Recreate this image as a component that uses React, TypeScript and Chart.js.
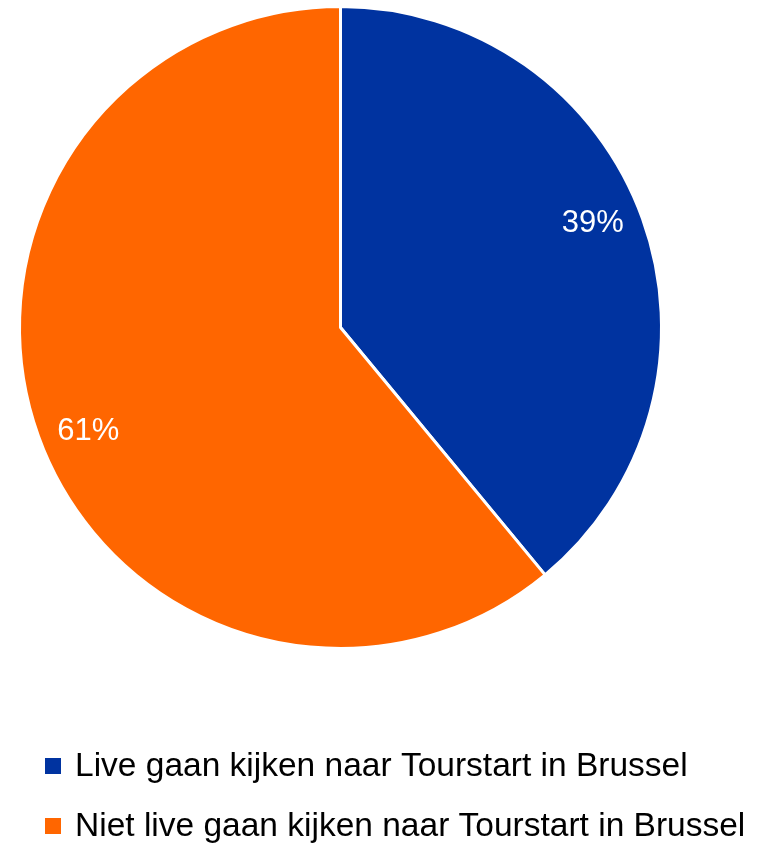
import React, { useEffect, useRef } from "react";
import { Chart, registerables } from "chart.js";

Chart.register(...registerables);

const categories = [
  "Live gaan kijken naar Tourstart in Brussel",
  "Niet live gaan kijken naar Tourstart in Brussel",
];
const values = [39, 61];
const colors = ["#0033A0", "#FF6600"];

const FONT = "'Liberation Sans', Arial, sans-serif";

const labelPlugin = {
  id: "sliceLabels",
  afterDatasetsDraw(chart: any) {
    const ctx = chart.ctx;
    const meta = chart.getDatasetMeta(0);
    const total = values.reduce((a, b) => a + b, 0);
    ctx.save();
    ctx.fillStyle = "#ffffff";
    ctx.font = `31px ${FONT}`;
    ctx.textAlign = "center";
    ctx.textBaseline = "middle";
    meta.data.forEach((arc: any, i: number) => {
      const p = arc.getProps(["x", "y", "startAngle", "endAngle", "outerRadius"], true);
      const mid = (p.startAngle + p.endAngle) / 2 - (2.6 * Math.PI) / 180;
      const r = p.outerRadius * 0.85;
      const pct = Math.round((values[i] / total) * 100);
      ctx.fillText(pct + "%", p.x + Math.cos(mid) * r, p.y + Math.sin(mid) * r);
    });
    ctx.restore();
  },
};

const legendPlugin = {
  id: "customLegend",
  afterDraw(chart: any) {
    const ctx = chart.ctx;
    const labels = chart.data.labels as string[];
    const bg = chart.data.datasets[0].backgroundColor as string[];
    const startY = chart.chartArea.bottom + 116;
    ctx.save();
    ctx.font = `33.5px ${FONT}`;
    ctx.textBaseline = "middle";
    ctx.textAlign = "left";
    labels.forEach((lab, i) => {
      const cy = startY + i * 60;
      ctx.fillStyle = bg[i];
      ctx.fillRect(45, cy - 8, 16, 16);
      ctx.fillStyle = "#000000";
      ctx.fillText(lab, 75, cy + 1);
    });
    ctx.restore();
  },
};

export default function App() {
  const ref = useRef<HTMLCanvasElement | null>(null);
  useEffect(() => {
    if (!ref.current) return;
    const chart = new Chart(ref.current, {
      type: "pie",
      data: {
        labels: categories,
        datasets: [
          {
            data: values,
            backgroundColor: colors,
            borderColor: "#ffffff",
            borderWidth: 3,
          },
        ],
      },
      options: {
        animation: false,
        responsive: false,
        rotation: 0,
        layout: { padding: { left: 18, right: 100, top: 5, bottom: 195 } },
        plugins: {
          legend: { display: false },
          tooltip: { enabled: false },
        },
      },
      plugins: [labelPlugin, legendPlugin],
    });
    return () => chart.destroy();
  }, []);
  return (
    <div style={{ position: "absolute", left: 0, top: 0, width: 763, height: 845, background: "#fff" }}>
      <canvas ref={ref} width={763} height={845} style={{ width: 763, height: 845, display: "block" }} />
    </div>
  );
}
